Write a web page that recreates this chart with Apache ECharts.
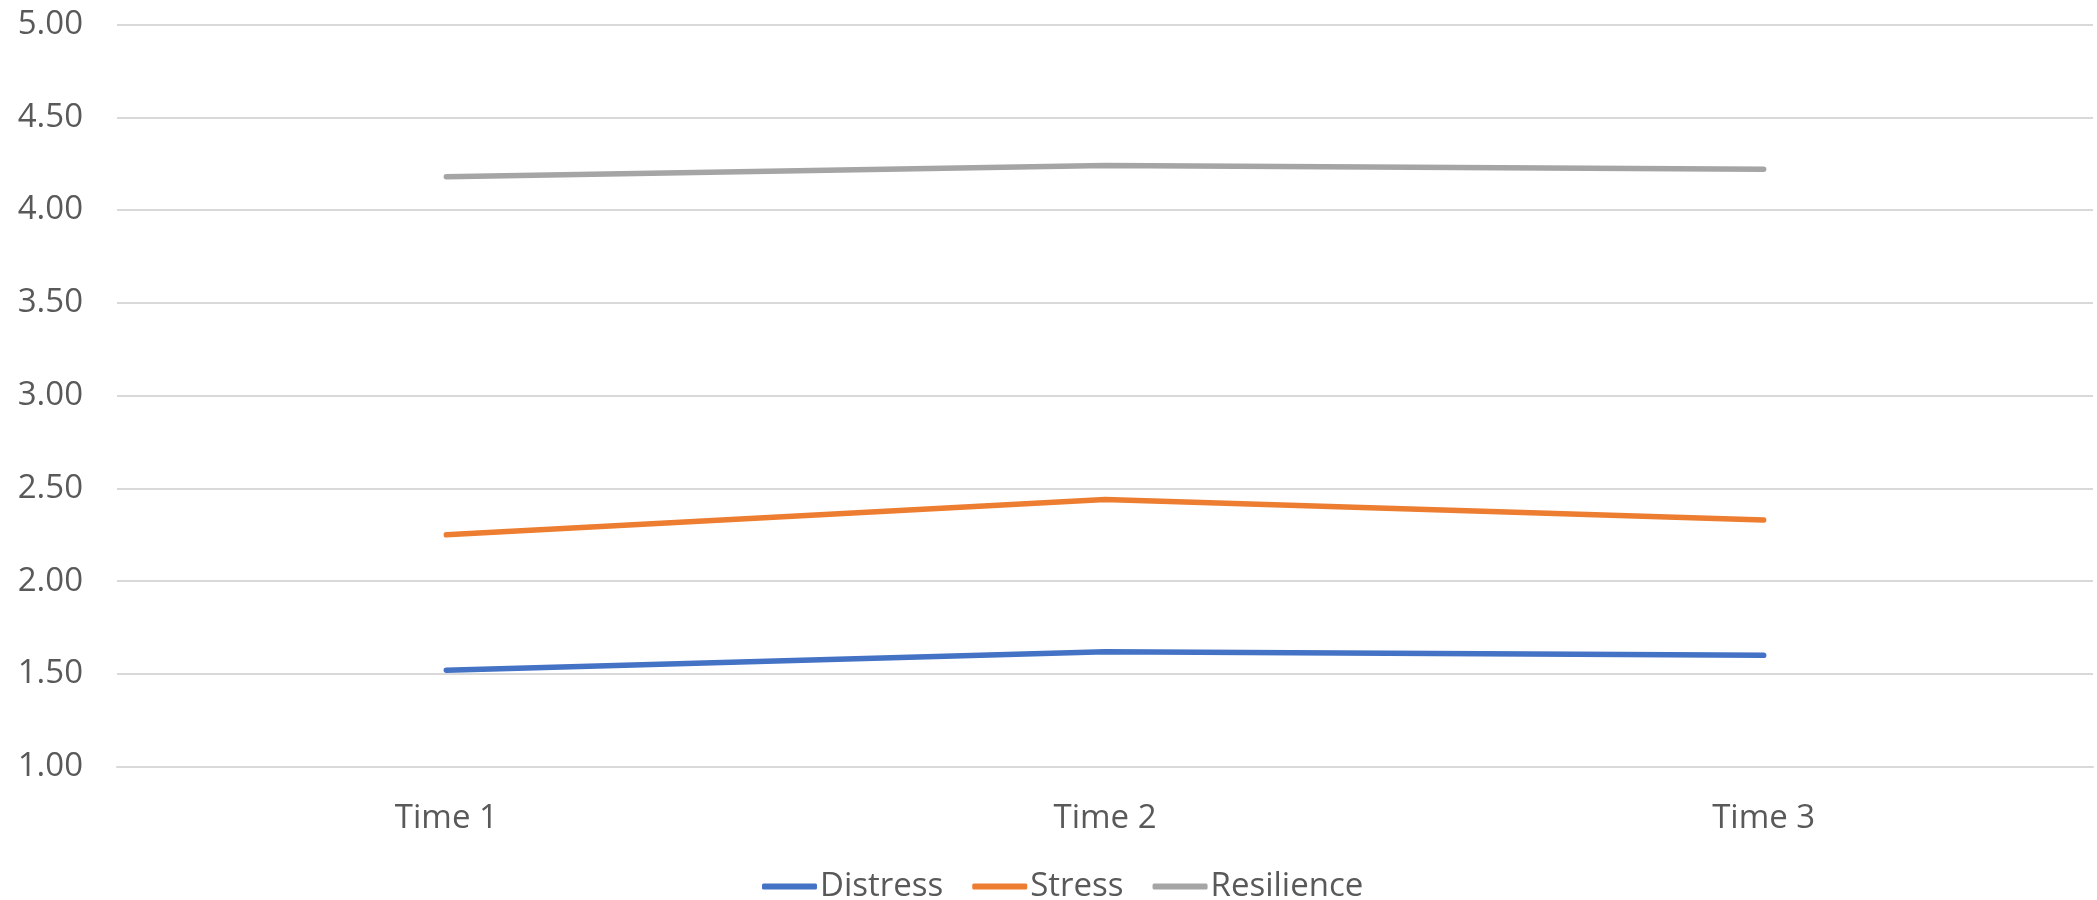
<!DOCTYPE html>
<html>
<head>
<meta charset="utf-8">
<title>Distress, Stress and Resilience over time</title>
<script src="https://cdn.jsdelivr.net/npm/echarts@6/dist/echarts.min.js"></script>
<style>
  html, body { margin: 0; padding: 0; background: #ffffff; }
  #chart { width: 2097px; height: 900px; }
</style>
</head>
<body>
<div id="chart"></div>
<script>
// Measurement occasions
const categories = ['Time 1', 'Time 2', 'Time 3'];

// Mean scores at each occasion
const distress = [1.52, 1.62, 1.60];
const stress = [2.25, 2.44, 2.33];
const resilience = [4.18, 4.24, 4.22];

const seriesNames = ['Distress', 'Stress', 'Resilience'];
const seriesColors = ['#4472C4', '#ED7D31', '#A5A5A5'];
const seriesValues = [distress, stress, resilience];

const textColor = '#595959';
const gridColor = '#D9D9D9';
const fontFamily = '"Open Sans", "Noto Sans", sans-serif';
const fontSize = 33;

const chart = echarts.init(document.getElementById('chart'), null, { renderer: 'canvas' });

chart.setOption({
  backgroundColor: '#ffffff',
  animation: false,
  grid: { left: 117, right: 4, top: 24.5, bottom: 133.3 },
  legend: {
    data: seriesNames,
    left: 757,
    top: 865,
    itemWidth: 55,
    itemHeight: 6,
    itemGap: 29,
    icon: 'roundRect',
    textStyle: { color: textColor, fontSize: fontSize, fontFamily: fontFamily, padding: [0, 0, 0, -2] }
  },
  xAxis: {
    type: 'category',
    data: categories,
    boundaryGap: true,
    axisLine: { show: true, lineStyle: { color: gridColor, width: 2 } },
    axisTick: { show: false },
    axisLabel: { color: textColor, fontSize: fontSize, fontFamily: fontFamily, margin: 35 },
    splitLine: { show: false }
  },
  yAxis: {
    type: 'value',
    min: 1,
    max: 5,
    interval: 0.5,
    axisLine: { show: false },
    axisTick: { show: false },
    axisLabel: {
      color: textColor,
      fontSize: fontSize,
      fontFamily: fontFamily,
      margin: 34,
      formatter: v => v.toFixed(2)
    },
    splitLine: { show: true, lineStyle: { color: gridColor, width: 2 } }
  },
  series: seriesNames.map((name, i) => ({
    name: name,
    type: 'line',
    data: seriesValues[i],
    symbol: 'none',
    smooth: false,
    color: seriesColors[i],
    lineStyle: { color: seriesColors[i], width: 5.5, cap: 'round', join: 'round' }
  }))
});
</script>
</body>
</html>
